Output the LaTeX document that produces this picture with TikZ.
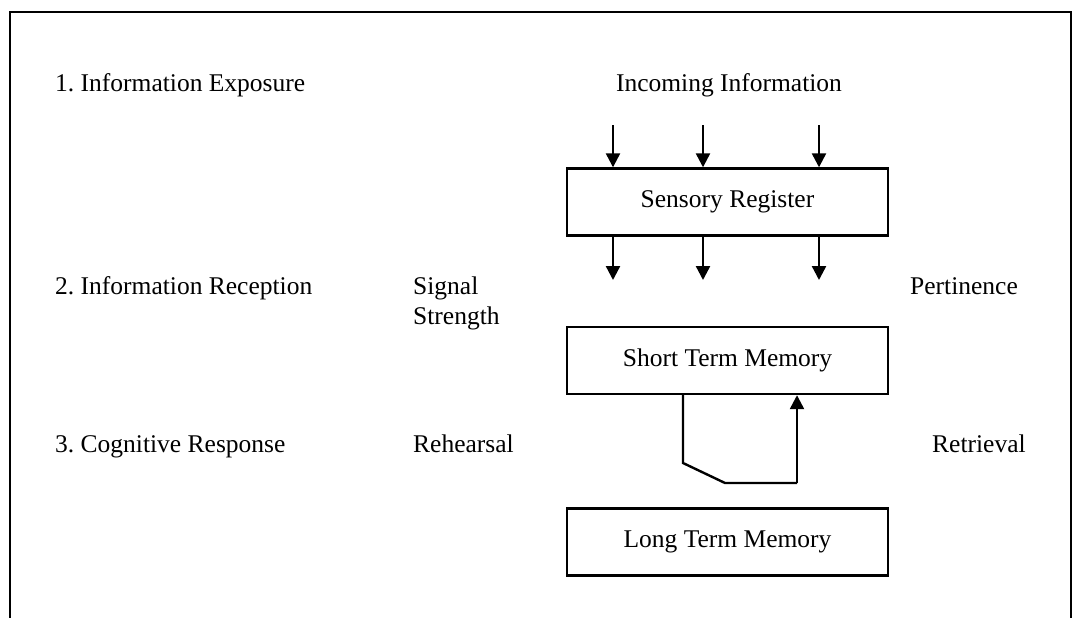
\documentclass[tikz,border=0pt]{standalone}
\usepackage{fontspec}
\setmainfont{Liberation Serif}
\usetikzlibrary{arrows.meta}
\frenchspacing

\tikzset{
  stage/.style={draw, line width=2.4pt, minimum width=321pt, minimum height=67pt,
                inner sep=0pt, font=\fontsize{25.5}{30}\selectfont},
  lbl/.style={anchor=base west, inner sep=0pt, font=\fontsize{25.5}{30}\selectfont, align=left},
  flow/.style={line width=2.4pt, -{Triangle[width=14pt,length=14pt]}},
  link/.style={line width=2.4pt}
}

\begin{document}
\begin{tikzpicture}[x=1pt, y=-1pt]
  \useasboundingbox (0,0) rectangle (1073,618);

  % outer frame (open at the bottom)
  \draw[line width=2pt] (10,618) -- (10,12) -- (1071,12) -- (1071,618);

  % stage labels
  \node[lbl] (s1) at (55,92)  {1. Information Exposure};
  \node[lbl] (s2) at (55,294) {2. Information Reception};
  \node[lbl] (s3) at (55,452) {3. Cognitive Response};

  % side labels (a two-line node sits on the baseline of its last line)
  \node[lbl] (sig) at (413,324) {Signal\\Strength};
  \node[lbl] (reh) at (413,452) {Rehearsal};
  \node[lbl] (per) at (910,294) {Pertinence};
  \node[lbl] (ret) at (932,452) {Retrieval};
  \node[lbl, anchor=base] (inc) at (729,92) {Incoming Information};

  % memory stores
  \node[stage] (sr)  at (727.5,202)   {Sensory Register};
  \node[stage] (stm) at (727.5,360.5) {Short Term Memory};
  \node[stage] (ltm) at (727.5,542)   {Long Term Memory};

  % incoming information into the sensory register, and on to short term memory
  \foreach \x [count=\i] in {613,703,819} {
    \coordinate (in\i) at (\x,125);
    \coordinate (out\i) at (\x,280);
    \draw[flow] (in\i) -- (in\i |- sr.north);
    \draw[flow] (out\i |- sr.south) -- (out\i);
  }

  % rehearsal loop back into short term memory
  \coordinate (la) at (683,463);
  \coordinate (lb) at (725,483);
  \coordinate (lc) at (797,483);
  \draw[link, line join=miter] (la |- stm.south) -- (la) -- (lb) -- (lc);
  \draw[flow] (lc) -- (lc |- stm.south);
\end{tikzpicture}
\end{document}
